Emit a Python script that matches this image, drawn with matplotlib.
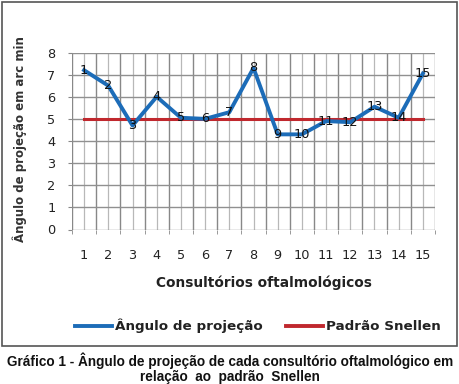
import matplotlib
matplotlib.use("Agg")
import matplotlib.pyplot as plt
from matplotlib.lines import Line2D
from matplotlib.patches import Rectangle

categories = list(range(1, 16))
angulo = [7.2, 6.5, 4.7, 6.0, 5.05, 5.0, 5.3, 7.3, 4.3, 4.3, 4.9, 4.85, 5.55, 5.05, 7.05]
snellen = [5] * 15
y_ticks = list(range(0, 9))

W, H = 459, 384
fig = plt.figure(figsize=(W / 100, H / 100), dpi=100)

# outer frame
fig.patches.append(Rectangle((2 / W, 1 - 346 / H), 455 / W, 344 / H, transform=fig.transFigure,
                             fill=False, edgecolor="#555555", linewidth=1.2))

ax = fig.add_axes([72 / W, 1 - 229.5 / H, (435 - 72) / W, (229.5 - 52.5) / H])
n = len(categories)
ax.set_xlim(0.5, n + 0.5)
ax.set_ylim(0, 8)

# grid: darker at category boundaries and integer values, lighter at category centers
for i in range(n + 1):
    ax.axvline(i + 0.5, color="#888888", lw=1.0, zorder=0)
for c in categories:
    ax.axvline(c, color="#b8b8b8", lw=0.9, zorder=0)
for yv in y_ticks:
    ax.axhline(yv, color="#909090", lw=1.0, zorder=0)

for s in ax.spines.values():
    s.set_visible(False)

ax.set_yticks(y_ticks)
ax.set_yticklabels([str(v) for v in y_ticks], fontsize=9.3, family="DejaVu Sans", color="#222222")
ax.set_xticks(categories)
ax.set_xticklabels([str(c) for c in categories], fontsize=9.3, family="DejaVu Sans", color="#222222")
ax.tick_params(axis="x", length=0, pad=14)
ax.set_xticks([i + 0.5 for i in range(n + 1)], minor=True)
ax.tick_params(axis="x", which="minor", length=3, color="#888888")
ax.tick_params(axis="y", length=3, color="#888888", pad=9)

ax.plot(categories, snellen, color="#c0282e", lw=2.2, zorder=3)
ax.plot(categories, angulo, color="#1c6cb8", lw=2.8, zorder=4)
for c, v in zip(categories, angulo):
    ax.text(c, v, str(c), ha="center", va="center", fontsize=9.3, family="DejaVu Sans",
            color="#111111", zorder=5)

fig.text(264 / W, 1 - 283 / H, "Consultórios oftalmológicos", ha="center", va="center",
         fontsize=9.9, fontweight="bold", family="DejaVu Sans", color="#222222")
fig.text(20 / W, 1 - 139 / H, "Ângulo de projeção em arc min", rotation=90, ha="center", va="center",
         fontsize=8.5, fontweight="bold", family="DejaVu Sans", color="#333333")

# legend
handles = [Line2D([], [], color="#1c6cb8", lw=2.8), Line2D([], [], color="#c0282e", lw=2.8)]
leg = fig.legend(handles, ["Ângulo de projeção", "Padrão Snellen"], loc="center",
                 bbox_to_anchor=(258 / W, 1 - 326 / H), ncol=2, frameon=False,
                 prop={"family": "DejaVu Sans", "weight": "bold", "size": 9.7},
                 handlelength=2.75, handletextpad=0.2, columnspacing=1.75,
                 borderpad=0, borderaxespad=0)
for t in leg.get_texts():
    t.set_color("#222222")

fig.text(230 / W, 1 - 368.5 / H,
         "Gráfico 1 - Ângulo de projeção de cada consultório oftalmológico em\n"
         "relação  ao  padrão  Snellen",
         ha="center", va="center", ma="center", fontsize=9.8, fontweight="bold",
         family="Liberation Sans", color="#111111", linespacing=1.05)

fig.savefig("out.png", dpi=100)
